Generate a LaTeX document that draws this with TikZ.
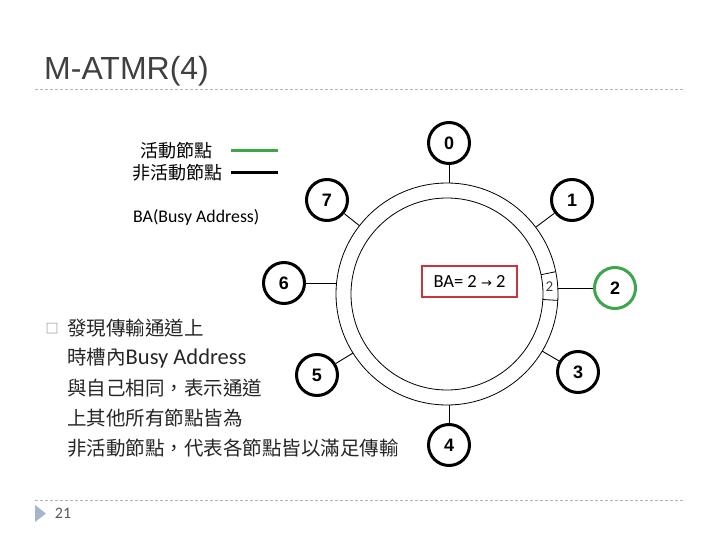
\documentclass[tikz,border=0pt]{standalone}
\usepackage{fontspec}
\setmainfont{Liberation Sans}
\newfontfamily\cjk{Noto Sans CJK TC}
\newfontfamily\carl{Carlito}
\newfontfamily\dejavu{DejaVu Sans}
\definecolor{sepgray}{HTML}{B4B4B4}
\definecolor{titlegray}{HTML}{404040}
\definecolor{nodegreen}{HTML}{3DA64C}
\definecolor{boxred}{HTML}{C8363C}
\definecolor{tri}{HTML}{A3B6CC}
\tikzset{
  ringnode/.style={circle, draw=black, line width=3pt, minimum size=41pt, inner sep=0pt,
    font=\fontsize{18}{18}\selectfont\bfseries},
  activenode/.style={ringnode, draw=nodegreen},
  conn/.style={line width=0.9pt},
  ringline/.style={line width=0.8pt},
  sep/.style={draw=sepgray, line width=0.8pt, dash pattern=on 3pt off 2pt},
  bodyline/.style={anchor=west, inner sep=0pt, text=black!85, font=\cjk\fontsize{19.5}{19.5}\selectfont},
  legtext/.style={inner sep=0pt, font=\cjk\fontsize{18}{18}\selectfont},
}
\begin{document}
\begin{tikzpicture}[x=1pt,y=-1pt]
\useasboundingbox (0,0) rectangle (720,540);
% title and separators
\node[anchor=base west, inner sep=0pt, text=titlegray, font=\fontsize{32}{32}\selectfont] (title) at (44,80) {M-ATMR(4)};
\coordinate (s1a) at (35,89); \coordinate (s1b) at (685,89);
\draw[sep] (s1a) -- (s1b);
\coordinate (s2a) at (35,500); \coordinate (s2b) at (685,500);
\draw[sep] (s2a) -- (s2b);
\fill[tri] (35,505) -- (35,522) -- (46,513.5) -- cycle;
\node[inner sep=0pt, text=black!65, font=\carl\fontsize{16}{16}\selectfont] (pg) at (63,513) {21};
% legend
\node[legtext] (lg1) at (176,151) {活動節點};
\node[legtext] (lg2) at (177,173) {非活動節點};
\coordinate (g1a) at (231,151); \coordinate (g1b) at (278,151);
\coordinate (g2a) at (231,173); \coordinate (g2b) at (278,173);
\draw[nodegreen, line width=3pt] (g1a) -- (g1b);
\draw[black, line width=3pt] (g2a) -- (g2b);
\node[anchor=west, inner sep=0pt, font=\carl\fontsize{17.8}{17.8}\selectfont] (lg3) at (133,217) {BA(Busy Address)};
% ring
\coordinate (C) at (447,294);
\draw[ringline] (C) circle[radius=111];
\draw[ringline] (C) circle[radius=96];
% slot
\coordinate (t1a) at (541.0,274.7); \coordinate (t1b) at (555.7,271.7);
\coordinate (t2a) at (542.8,299.5); \coordinate (t2b) at (557.8,300.4);
\draw[ringline] (t1a) -- (t1b);
\draw[ringline] (t2a) -- (t2b);
\node[inner sep=0pt, text=black!75, font=\carl\fontsize{15}{15}\selectfont] (slot) at (549.5,286.5) {2};
% BA box
\node[draw=boxred, line width=1.5pt, minimum width=95pt, minimum height=31pt, inner sep=0pt,
  font=\carl\fontsize{18.5}{18.5}\selectfont] (ba) at (469.5,281.5) {BA= 2 {\dejavu\fontsize{13}{13}\selectfont →} 2};
% nodes
\node[ringnode] (n0) at (449,143) {0};
\node[ringnode] (n1) at (572,200) {1};
\node[activenode] (n2) at (615,288) {2};
\node[ringnode] (n3) at (578,372) {3};
\node[ringnode] (n4) at (449,445) {4};
\node[ringnode] (n5) at (317,375) {5};
\node[ringnode] (n6) at (284,283) {6};
\node[ringnode] (n7) at (327,200) {7};
\coordinate (r0) at (449,183.0);
\coordinate (r1) at (536,227);
\coordinate (r2) at (557.9,288);
\coordinate (r3) at (542,351);
\coordinate (r4) at (449,405.0);
\coordinate (r5) at (353,353);
\coordinate (r6) at (336.5,283);
\coordinate (r7) at (359.5,225.7);
\foreach \i in {0,...,7} { \draw[conn] (r\i) -- (n\i); }
% body text
\node[inner sep=0pt, text=black!55, font=\cjk\fontsize{13}{13}\selectfont] (bul) at (52,329) {□};
\node[bodyline] (b1) at (67,328) {發現傳輸通道上};
\node[bodyline] (b2) at (67,358) {時槽內{\carl\fontsize{22.5}{22.5}\selectfont Busy Address}};
\node[bodyline] (b3) at (67,388) {與自己相同，表示通道};
\node[bodyline] (b4) at (67,418) {上其他所有節點皆為};
\node[bodyline] (b5) at (67,448) {非活動節點，代表各節點皆以滿足傳輸};
\end{tikzpicture}
\end{document}
